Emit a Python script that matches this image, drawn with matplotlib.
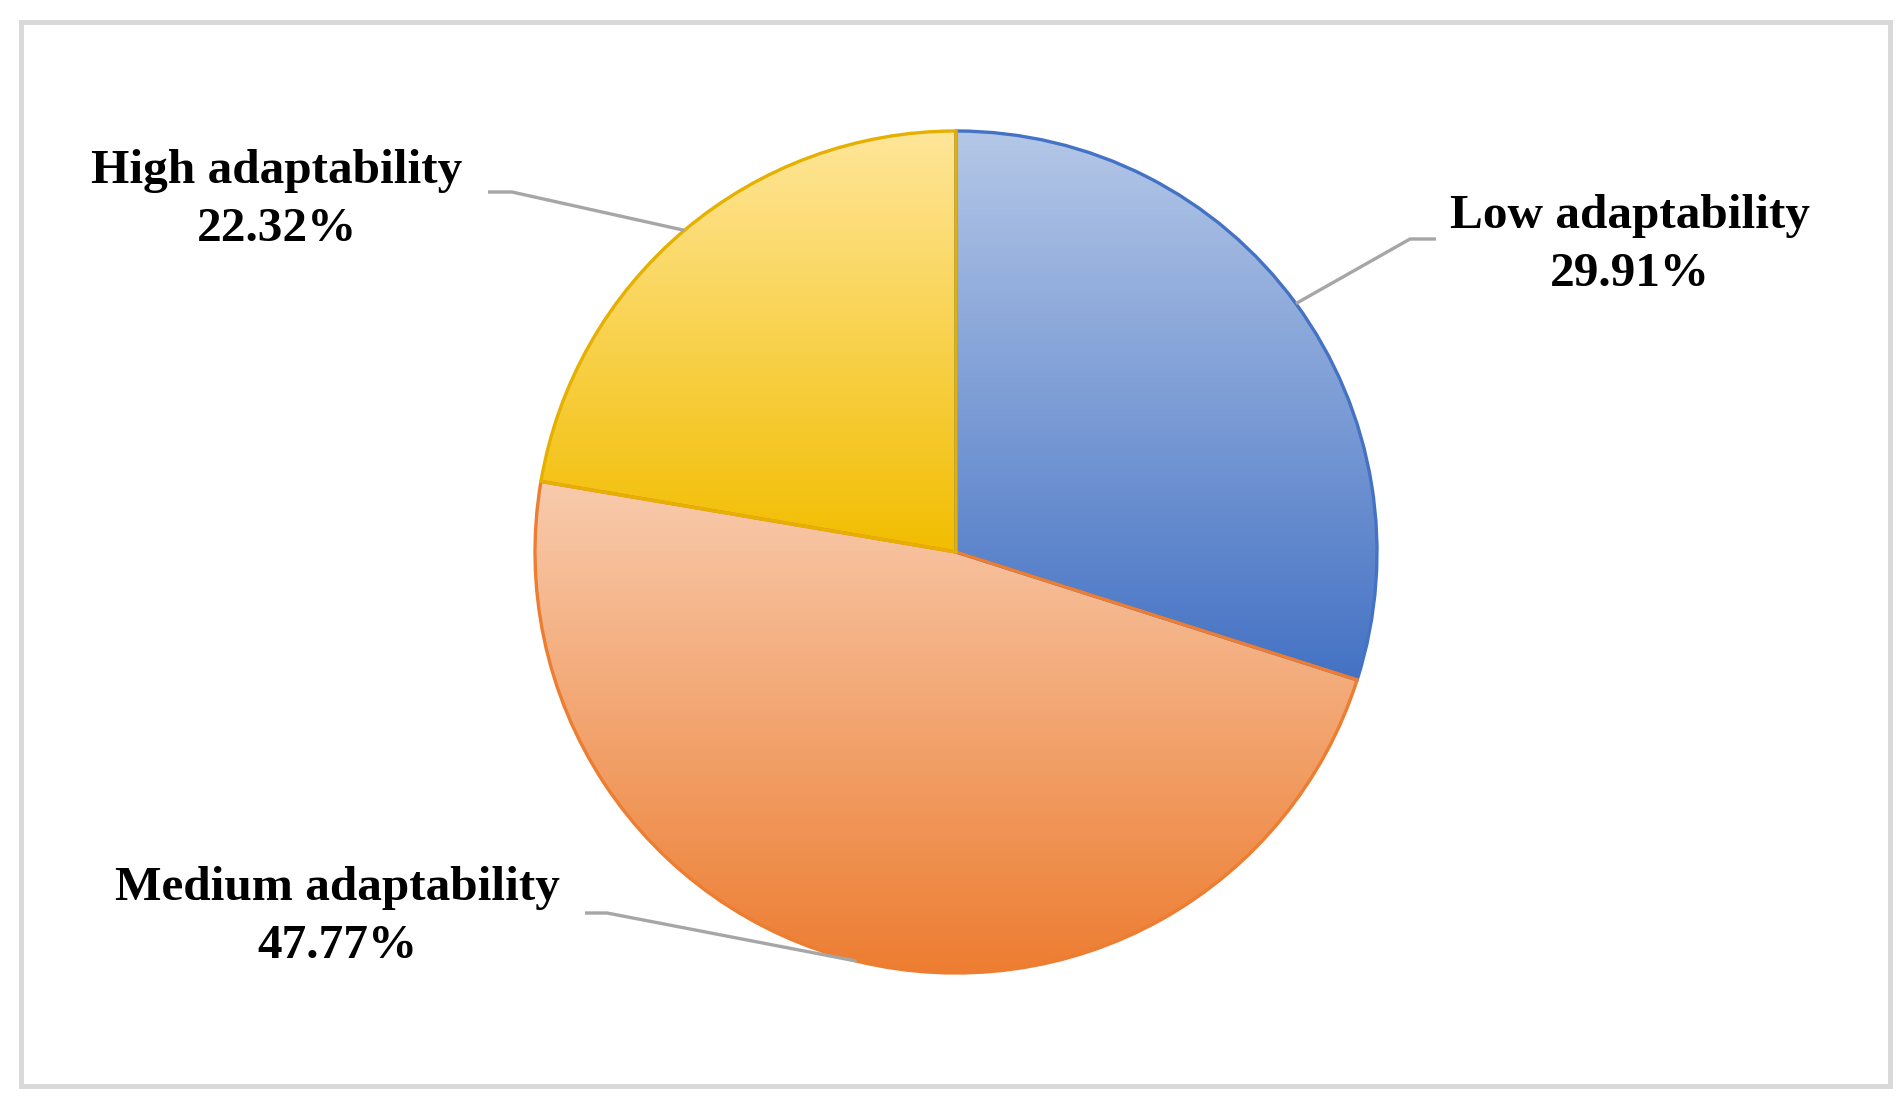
import numpy as np
import matplotlib
matplotlib.use("Agg")
import matplotlib.pyplot as plt
from matplotlib.patches import Wedge, Rectangle
from matplotlib.colors import LinearSegmentedColormap

labels = ["Low adaptability", "Medium adaptability", "High adaptability"]
shares = [29.91, 47.77, 22.32]
top_colors = ["#b4c7e7", "#f8cbad", "#ffe699"]
bottom_colors = ["#4472c4", "#ed7d31", "#f2bd00"]
edge_colors = ["#4472c4", "#ed7d31", "#e6b000"]

W, H = 1903, 1113
fig = plt.figure(figsize=(W / 100, H / 100), dpi=100)
ax = fig.add_axes([0, 0, 1, 1])
ax.set_xlim(0, W)
ax.set_ylim(0, H)
ax.set_aspect("equal")
ax.axis("off")

# outer frame
ax.add_patch(Rectangle((20.5, H - 1085.5), 1869, 1064, fill=False,
                       edgecolor="#d9d9d9", lw=3.6))

cx, cy, r = 956, H - 552, 421

# wedge angles, clockwise from 12 o'clock
angles = []
start = 90.0
for s in shares:
    end = start - s / 100 * 360
    angles.append((end, start))
    start = end

for (t1, t2), c0, c1, ec in zip(angles, top_colors, bottom_colors, edge_colors):
    w = Wedge((cx, cy), r, t1, t2, facecolor="none", edgecolor="none")
    ax.add_patch(w)
    th = np.radians(np.linspace(t1, t2, 200))
    ys = np.concatenate([[cy], cy + r * np.sin(th)])
    ymin, ymax = ys.min(), ys.max()
    cmap = LinearSegmentedColormap.from_list("g", [c1, c0])
    grad = np.linspace(0, 1, 256).reshape(-1, 1)
    im = ax.imshow(grad, cmap=cmap, origin="lower", aspect="auto",
                   extent=[cx - r, cx + r, ymin, ymax], interpolation="bilinear")
    im.set_clip_path(w)
    ax.add_patch(Wedge((cx, cy), r, t1, t2, facecolor="none", edgecolor=ec, lw=2.4))

ax.set_xlim(0, W)
ax.set_ylim(0, H)

# labels with leader lines
label_pos = [(1630, 245), (337, 917), (277, 200)]
elbows = [[(1436, 239), (1410, 239)], [(585, 913), (607, 913)], [(488, 192), (512, 192)]]
for lab, s, (t1, t2), (lx, ly), el in zip(labels, shares, angles, label_pos, elbows):
    mid = np.radians((t1 + t2) / 2)
    px, py = cx + r * np.cos(mid), cy + r * np.sin(mid)
    xs = [el[0][0], el[1][0], px]
    ys = [H - el[0][1], H - el[1][1], py]
    ax.plot(xs, ys, color="#a6a6a6", lw=2.4, solid_capstyle="butt", zorder=1)
    ax.text(lx, H - ly, f"{lab}\n{s:.2f}%", ha="center", va="center",
            multialignment="center", fontsize=35.5, fontweight="bold",
            family="Liberation Serif", linespacing=1.4)

fig.savefig("out.png", dpi=100)
